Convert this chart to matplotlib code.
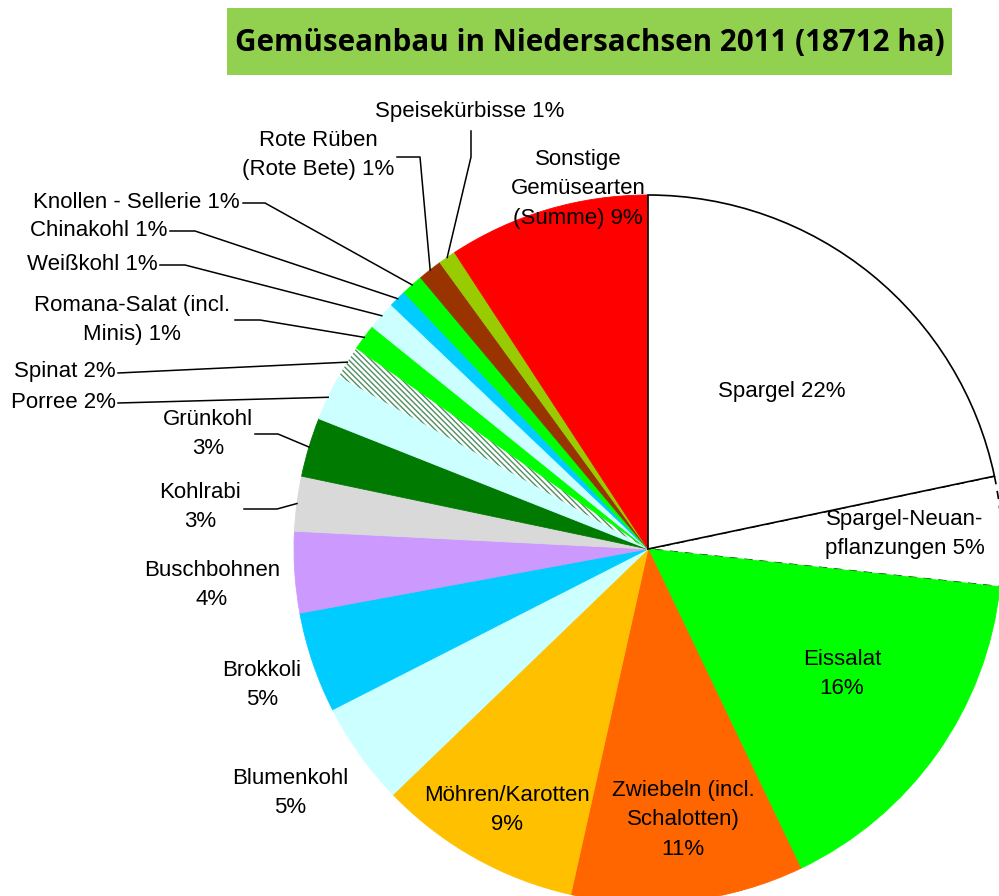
import numpy as np
import matplotlib.pyplot as plt
from matplotlib.patches import Rectangle

# Anbauflächen-Anteile in %, im Uhrzeigersinn ab 12 Uhr
names = ["Spargel", "Spargel-Neuan-\npflanzungen", "Eissalat",
         "Zwiebeln (incl.\nSchalotten)", "Möhren/Karotten", "Blumenkohl",
         "Brokkoli", "Buschbohnen", "Kohlrabi", "Grünkohl", "Porree",
         "Spinat", "Romana-Salat (incl.\nMinis)", "Weißkohl", "Chinakohl",
         "Knollen - Sellerie", "Rote Rüben\n(Rote Bete)", "Speisekürbisse",
         "Sonstige\nGemüsearten\n(Summe)"]
shares = [21.7, 5.0, 16.2, 10.6, 9.3, 4.7, 4.6, 3.7, 2.5, 2.7, 2.1,
          1.5, 1.2, 1.3, 0.8, 1.0, 1.1, 0.8, 9.2]
pct = [22, 5, 16, 11, 9, 5, 5, 4, 3, 3, 2, 2, 1, 1, 1, 1, 1, 1, 9]
colors = ["white", "white", "#00ff00", "#ff6600", "#ffc000", "#ccffff",
          "#00ccff", "#cc99ff", "#d9d9d9", "#007a00", "#ccffff", "white",
          "#00ff00", "#ccffff", "#00ccff", "#00ff00", "#993300", "#99cc00",
          "#ff0000"]

# layout in pixel coords (y from top): x, y, ha, separator before percent
lab = [(782, 392, "center", " "), (905, 534, "center", " "),
       (842, 674, "center", "\n"), (683, 820, "center", "\n"),
       (507, 810, "center", "\n"), (290, 793, "center", "\n"),
       (262, 685, "center", "\n"), (212, 585, "center", "\n"),
       (200, 507, "center", "\n"), (208, 434, "center", "\n"),
       (116, 403, "right", " "), (116, 372, "right", " "),
       (132, 320, "center", " "), (158, 265, "right", " "),
       (167, 231, "right", " "), (240, 203, "right", " "),
       (318, 155, "center", " "), (470, 111, "center", " "),
       (578, 189, "center", " ")]
# leader lines: start points (elbow) per label index
leaders = {9: [(255, 434), (278, 434)], 8: [(244, 509), (277, 509)],
           10: [(118, 403)], 11: [(118, 373)],
           12: [(235, 320), (260, 320)], 13: [(160, 265), (185, 265)],
           14: [(170, 231), (195, 231)], 15: [(243, 203), (265, 203)],
           16: [(397, 157), (420, 157)], 17: [(471, 131), (471, 157)]}

cx, cy, R = 648, 549, 354

plt.rcParams["hatch.linewidth"] = 1.0
fig = plt.figure(figsize=(9.99, 8.96), dpi=100)
ax = fig.add_axes([0, 0, 1, 1])
wedges, _ = ax.pie(shares, colors=colors, startangle=-90, counterclock=True,
                   center=(cx, cy), radius=R,
                   wedgeprops=dict(linewidth=0.6))
for w, c in zip(wedges, colors):
    w.set_edgecolor(c)
wedges[0].set_edgecolor("black")
wedges[0].set_linewidth(1.2)
wedges[0].set_zorder(3)
wedges[1].set_edgecolor("black")
wedges[1].set_linewidth(1.2)
wedges[1].set_linestyle((0, (5, 4)))
wedges[11].set_edgecolor("#4f8f60")
wedges[11].set_linewidth(0)
wedges[11].set_hatch("\\" * 6)

ax.set_xlim(0, 999)
ax.set_ylim(896, 0)
ax.set_aspect("equal")
ax.axis("off")

for i, (x, y, ha, sep) in enumerate(lab):
    ax.text(x, y, f"{names[i]}{sep}{pct[i]}%", ha=ha, va="center",
            multialignment="center", fontsize=16, linespacing=1.55,
            family="Liberation Sans", color="black", zorder=5)

for i, pts in leaders.items():
    w = wedges[i]
    a = np.deg2rad((w.theta1 + w.theta2) / 2)
    end = (cx + R * np.cos(a), cy + R * np.sin(a))
    xs = [p[0] for p in pts] + [end[0]]
    ys = [p[1] for p in pts] + [end[1]]
    ax.plot(xs, ys, color="black", lw=1.1, zorder=4)

ax.add_patch(Rectangle((227, 8), 725, 67, facecolor="#92d050",
                       edgecolor="none", zorder=2))
ax.text(590, 43, "Gemüseanbau in Niedersachsen 2011 (18712 ha)",
        ha="center", va="center", fontsize=21.3, fontweight="bold",
        family="Open Sans", zorder=5)

fig.savefig("out.png", dpi=100)
